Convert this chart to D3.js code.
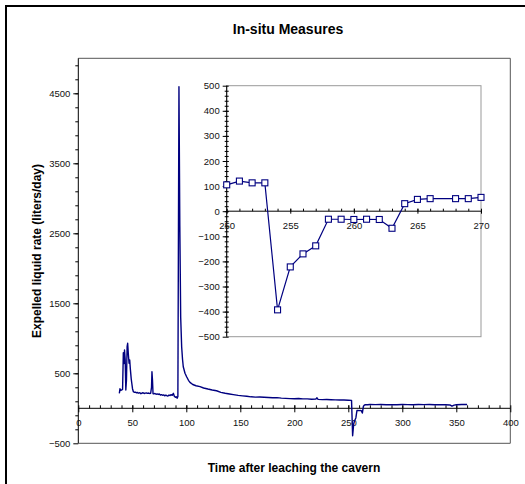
<!DOCTYPE html>
<html>
<head>
<meta charset="utf-8">
<script src="https://cdn.jsdelivr.net/npm/d3@7"></script>
<style>
body { margin: 0; background: #fff; }
svg { display: block; font-family: Arial, "Liberation Sans", sans-serif; }
.domain { display: none; }
</style>
</head>
<body>
<svg id="chart" width="525" height="484"></svg>
<script>
// main record: time after leaching (days) / expelled liquid rate (liters/day)
var times = [38, 38.6, 39.4, 40.2, 41, 41.7, 42.3, 42.8, 43.4, 44, 44.6, 45.2, 45.7, 46.4, 47, 47.6, 48.2, 49, 49.5, 50.2,
    51, 52, 53, 54, 55, 56, 57, 58, 59, 60, 61, 62, 63, 64, 65, 66, 67, 67.8, 68.2, 68.7, 69.2,
    70, 71, 72, 73, 74, 75, 76, 77, 78, 79, 80, 81, 82, 83, 84, 85, 86, 87, 88, 89, 90, 91, 91.5, 92.2,
    93.2, 94, 94.8, 95.7, 96.5, 97.2, 98.8, 100.3, 102, 103.4, 106, 109, 112.7, 116, 120, 124, 128, 132, 136, 140,
    143.5, 148, 152, 156, 160, 164, 168, 172, 176, 180, 184, 188, 192, 196, 200, 204, 208, 212, 216, 220, 221, 222,
    226, 230, 234, 238, 242, 246, 250, 253, 254, 255, 256, 257, 258, 259, 260, 261, 262, 263, 264, 265, 266, 268,
    270, 275, 280, 285, 290, 295, 300, 305, 310, 315, 320, 325, 330, 335, 340, 344, 346, 348, 350, 355, 360];
var rates = [214, 280, 255, 262, 270, 795, 640, 833, 700, 261, 400, 880, 929, 760, 643, 690, 560, 420, 361, 280,
    237, 228, 231, 220, 226, 215, 224, 208, 219, 222, 212, 217, 220, 214, 218, 212, 215, 300, 523, 400, 210,
    205, 212, 200, 206, 198, 204, 190, 196, 186, 192, 178, 188, 180, 176, 190, 182, 195, 186, 214, 170, 157, 165, 143, 170,
    4594, 2600, 1300, 880, 700, 594, 500, 451, 400, 371, 340, 322, 309, 290, 275, 262, 251, 228, 215, 205,
    196, 184, 178, 172, 164, 160, 162, 158, 154, 150, 152, 146, 142, 138, 137, 140, 134, 135, 130, 133, 150, 128,
    124, 125, 122, 120, 118, 119, 116, 113, -393, -222, -170, -138, -32, -32, -33, -32, -33, -68, 30, 47, 50, 50,
    55, 52, 54, 50, 53, 51, 55, 52, 50, 54, 52, 55, 50, 53, 51, 48, 30, 45, 50, 55, 55];

// inset: detail 250 - 270
var zoomTimes = [250, 251, 252, 253, 254, 255, 256, 257, 258, 259, 260, 261, 262, 263, 264, 265, 266, 268, 269, 270];
var zoomRates = [105, 120, 113, 113, -393, -222, -170, -138, -32, -32, -33, -32, -33, -68, 30, 47, 50, 50, 50, 55];

var xMainTicks = [0, 50, 100, 150, 200, 250, 300, 350, 400];
var yMainTicks = [-500, 500, 1500, 2500, 3500, 4500];
var xZoomTicks = [250, 255, 260, 265, 270];
var yZoomTicks = [-500, -400, -300, -200, -100, 0, 100, 200, 300, 400, 500];

var navy = "#000080";
var svg = d3.select("#chart");

// outer chart frame (runs off the right/bottom of the view)
svg.append("rect")
    .attr("x", 6).attr("y", 6)
    .attr("width", 540).attr("height", 500)
    .attr("fill", "#fff").attr("stroke", "#000").attr("stroke-width", 2);

svg.append("text")
    .attr("x", 288).attr("y", 34)
    .attr("text-anchor", "middle")
    .attr("font-weight", "bold").attr("font-size", 14)
    .text("In-situ Measures");

// ---------- main plot ----------
var x = d3.scaleLinear().domain([0, 400]).range([78.3, 510.3]);
var y = d3.scaleLinear().domain([-500, 5000]).range([443.3, 58.3]);

// plot border
svg.append("path")
    .attr("d", "M" + x(0) + "," + y(5000) + "H" + x(400) + "V" + y(-500) + "H" + x(0))
    .attr("fill", "none").attr("stroke", "#555").attr("stroke-width", 1);

// y axis: minor ticks, major ticks + labels
svg.append("g")
    .attr("transform", "translate(" + x(0) + ",0)")
    .call(d3.axisLeft(y).tickValues(d3.range(-300, 5000, 200)).tickSize(3).tickFormat(""));
svg.append("g")
    .attr("transform", "translate(" + x(0) + ",0)")
    .call(d3.axisLeft(y).tickValues(yMainTicks).tickSize(5).tickPadding(3).tickFormat(d3.format("d")))
    .call(g => g.selectAll("text").attr("font-size", 9.5).attr("fill", "#111"));
svg.append("line")
    .attr("x1", x(0)).attr("x2", x(0)).attr("y1", y(5000)).attr("y2", y(-500))
    .attr("stroke", "#000");

// x axis at zero
svg.append("g")
    .attr("transform", "translate(0," + y(0) + ")")
    .call(d3.axisBottom(x).tickValues(d3.range(10, 400, 10)).tickSize(3).tickFormat(""))
    .call(g => g.selectAll(".tick line").attr("y1", -3).attr("y2", 0));
svg.append("g")
    .attr("transform", "translate(0," + y(0) + ")")
    .call(d3.axisBottom(x).tickValues(xMainTicks).tickFormat(d3.format("d")))
    .call(g => g.selectAll(".tick line").attr("y1", -3).attr("y2", 4))
    .call(g => g.selectAll("text").attr("y", 11).attr("font-size", 9.5).attr("fill", "#111"));
svg.append("line")
    .attr("x1", x(0)).attr("x2", x(400)).attr("y1", y(0)).attr("y2", y(0))
    .attr("stroke", "#000");

var mainLine = d3.line()
    .x((d, i) => x(times[i]))
    .y(d => y(d));
svg.append("path")
    .datum(rates)
    .attr("d", mainLine)
    .attr("fill", "none").attr("stroke", navy).attr("stroke-width", 1.4)
    .attr("stroke-linejoin", "round");

// axis titles
svg.append("text")
    .attr("x", 294).attr("y", 472)
    .attr("text-anchor", "middle")
    .attr("font-weight", "bold").attr("font-size", 12)
    .text("Time after leaching the cavern");
svg.append("text")
    .attr("transform", "translate(41,251) rotate(-90)")
    .attr("text-anchor", "middle")
    .attr("font-weight", "bold").attr("font-size", 12)
    .text("Expelled liquid rate (liters/day)");

// ---------- inset ----------
var xz = d3.scaleLinear().domain([250, 270]).range([226.7, 481]);
var yz = d3.scaleLinear().domain([-500, 500]).range([336.7, 85.7]);

var inset = svg.append("g");
inset.append("rect")
    .attr("x", xz(250)).attr("y", yz(500))
    .attr("width", xz(270) - xz(250)).attr("height", yz(-500) - yz(500))
    .attr("fill", "#fff").attr("stroke", "#999").attr("stroke-width", 1);

inset.append("g")
    .attr("transform", "translate(" + xz(250) + ",0)")
    .call(d3.axisLeft(yz).tickValues(d3.range(-480, 500, 20)).tickSize(2).tickFormat(""))
    .call(g => g.selectAll(".tick line").attr("x1", 2));
inset.append("g")
    .attr("transform", "translate(" + xz(250) + ",0)")
    .call(d3.axisLeft(yz).tickValues(yZoomTicks).tickSize(4).tickPadding(3).tickFormat(d3.format("d")))
    .call(g => g.selectAll(".tick line").attr("x1", 2))
    .call(g => g.selectAll("text").attr("font-size", 9.5).attr("fill", "#111"));
inset.append("line")
    .attr("x1", xz(250)).attr("x2", xz(250)).attr("y1", yz(500)).attr("y2", yz(-500))
    .attr("stroke", "#000");

inset.append("g")
    .attr("transform", "translate(0," + yz(0) + ")")
    .call(d3.axisBottom(xz).tickValues(d3.range(251, 270, 1)).tickSize(2).tickFormat(""))
    .call(g => g.selectAll(".tick line").attr("y1", -2.5).attr("y2", 0));
inset.append("g")
    .attr("transform", "translate(0," + yz(0) + ")")
    .call(d3.axisBottom(xz).tickValues(xZoomTicks).tickFormat(d3.format("d")))
    .call(g => g.selectAll(".tick line").attr("y1", -2.5).attr("y2", 2.5))
    .call(g => g.selectAll("text").attr("y", 11).attr("font-size", 9.5).attr("fill", "#111"));
inset.append("line")
    .attr("x1", xz(250)).attr("x2", xz(270)).attr("y1", yz(0)).attr("y2", yz(0))
    .attr("stroke", "#000");

var zoomLine = d3.line()
    .x((d, i) => xz(zoomTimes[i]))
    .y(d => yz(d));
inset.append("path")
    .datum(zoomRates)
    .attr("d", zoomLine)
    .attr("fill", "none").attr("stroke", navy).attr("stroke-width", 1.2);

inset.selectAll(".mk")
    .data(zoomRates)
    .enter().append("rect")
    .attr("class", "mk")
    .attr("x", (d, i) => xz(zoomTimes[i]) - 3)
    .attr("y", d => yz(d) - 3)
    .attr("width", 6).attr("height", 6)
    .attr("fill", "#fff").attr("stroke", navy).attr("stroke-width", 1.1);
</script>
</body>
</html>
